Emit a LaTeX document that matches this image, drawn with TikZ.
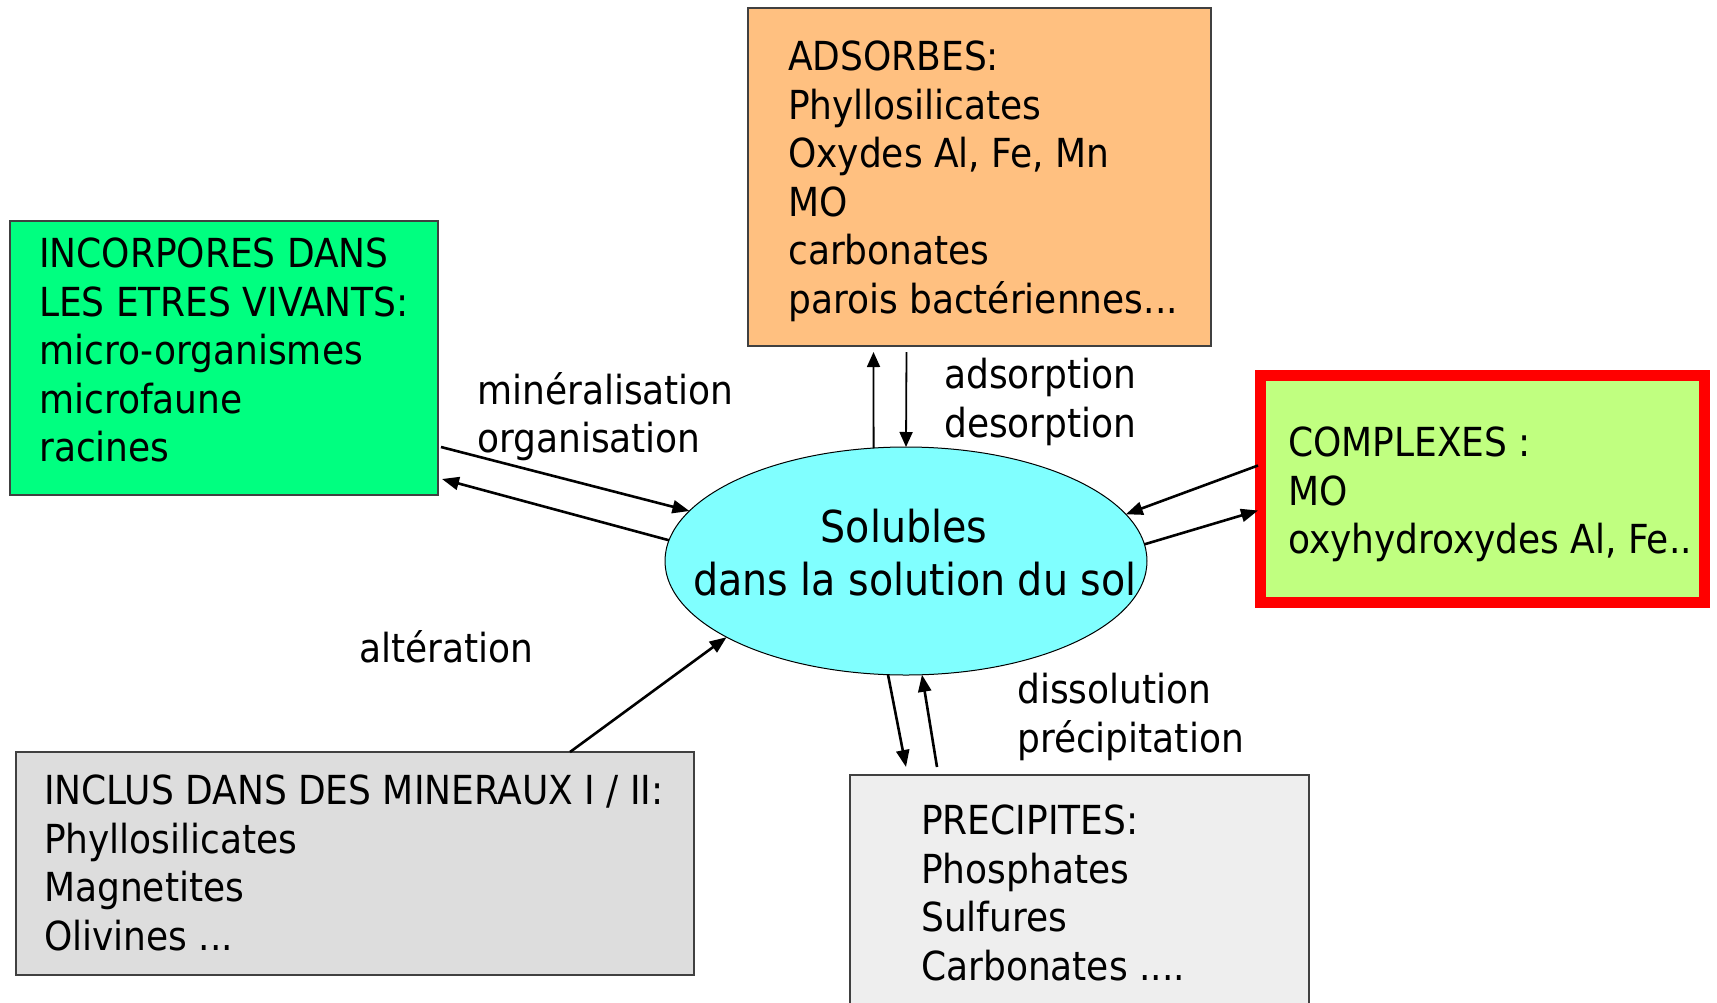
\documentclass[tikz,border=0pt]{standalone}
\usepackage{fontspec}
\setmainfont{DejaVu Sans Condensed}
\usetikzlibrary{arrows.meta,shapes.geometric}
\definecolor{vivantgreen}{HTML}{00FF80}
\definecolor{adsorange}{HTML}{FFC080}
\definecolor{complime}{HTML}{C0FF80}
\definecolor{solcyan}{HTML}{80FFFF}
\definecolor{mingray}{HTML}{DDDDDD}
\definecolor{precgray}{HTML}{EEEEEE}
\begin{document}
\begin{tikzpicture}[x=1pt,y=-1pt,
  box/.style={draw=black!75, line width=1.3pt, inner sep=0pt, outer sep=0pt, anchor=north west},
  txt/.style={anchor=north west, align=left, inner sep=0pt, font=\fontsize{40}{48.5}\selectfont},
  lbl/.style={anchor=north west, align=left, inner sep=0pt, font=\fontsize{40}{48.5}\selectfont},
  flow/.style={-{Triangle[length=17pt,width=13pt]}, line width=2.6pt},
  thinflow/.style={-{Triangle[length=15pt,width=13pt]}, line width=1.8pt}]
\useasboundingbox (0,0) rectangle (1717,1002);

% reservoirs
\node[box, fill=vivantgreen, minimum width=428, minimum height=274] (vivants) at (10,221) {};
\node[box, fill=adsorange, minimum width=463, minimum height=338] (ads) at (748,8) {};
\node[box, draw=red, line width=11pt, fill=complime, minimum width=444, minimum height=227] (comp) at (1260,375) {};
\node[box, fill=mingray, minimum width=678, minimum height=223] (mine) at (16,752) {};
\node[box, fill=precgray, minimum width=459, minimum height=240] (prec) at (850,775) {};
\node[draw=black, line width=1pt, fill=solcyan, ellipse, inner sep=0pt, outer sep=0pt,
      minimum width=482, minimum height=228] (sol) at (906,561) {};

% box contents
\node[txt] (tvivants) at (39,238) {INCORPORES DANS\\LES ETRES VIVANTS:\\micro-organismes\\microfaune\\racines};
\node[txt] (tads) at (788,41) {ADSORBES:\\Phyllosilicates\\Oxydes Al, Fe, Mn\\MO\\carbonates\\parois bactériennes...};
\node[txt] (tcomp) at (1288,427) {COMPLEXES :\\MO\\oxyhydroxydes Al, Fe..};
\node[txt] (tmine) at (44,775) {INCLUS DANS DES MINERAUX I / II:\\Phyllosilicates\\Magnetites\\Olivines ...};
\node[txt] (tprec) at (921,805) {PRECIPITES:\\Phosphates\\Sulfures\\Carbonates ....};
\node[txt, align=center, anchor=north, font=\fontsize{44}{53}\selectfont] (tsol) at (915,509)
  {Solubles\hspace*{22pt}\\dans la solution du sol};

% process labels
\node[lbl] (lmin) at (477,372) {minéralisation\\organisation};
\node[lbl] (lads) at (944,358) {adsorption\\desorption};
\node[lbl] (lalt) at (359,630) {altération};
\node[lbl] (ldis) at (1017,673) {dissolution\\précipitation};

% exchanges with the soil solution
\draw[flow] ([shift={(3,89)}]vivants.east) -- (sol.167.5);
\draw[flow] (sol.175.7) -- ([shift={(4,121)}]vivants.east);
\draw[thinflow] (sol.106) -- ([shift={(-106,6)}]ads.south);
\draw[thinflow] ([shift={(-73,6)}]ads.south) -- (sol.90);
\draw[flow] ([shift={(-2,-23)}]comp.west) -- (sol.12.5);
\draw[flow] (sol.4.3) -- ([shift={(-2,22)}]comp.west);
\draw[flow] ([shift={(215,0)}]mine.north) -- (sol.203);
\draw[flow] (sol.261.8) -- ([shift={(-173.5,-8)}]prec.north);
\draw[flow] ([shift={(-142.5,-8)}]prec.north) -- (sol.278.7);
\end{tikzpicture}
\end{document}
